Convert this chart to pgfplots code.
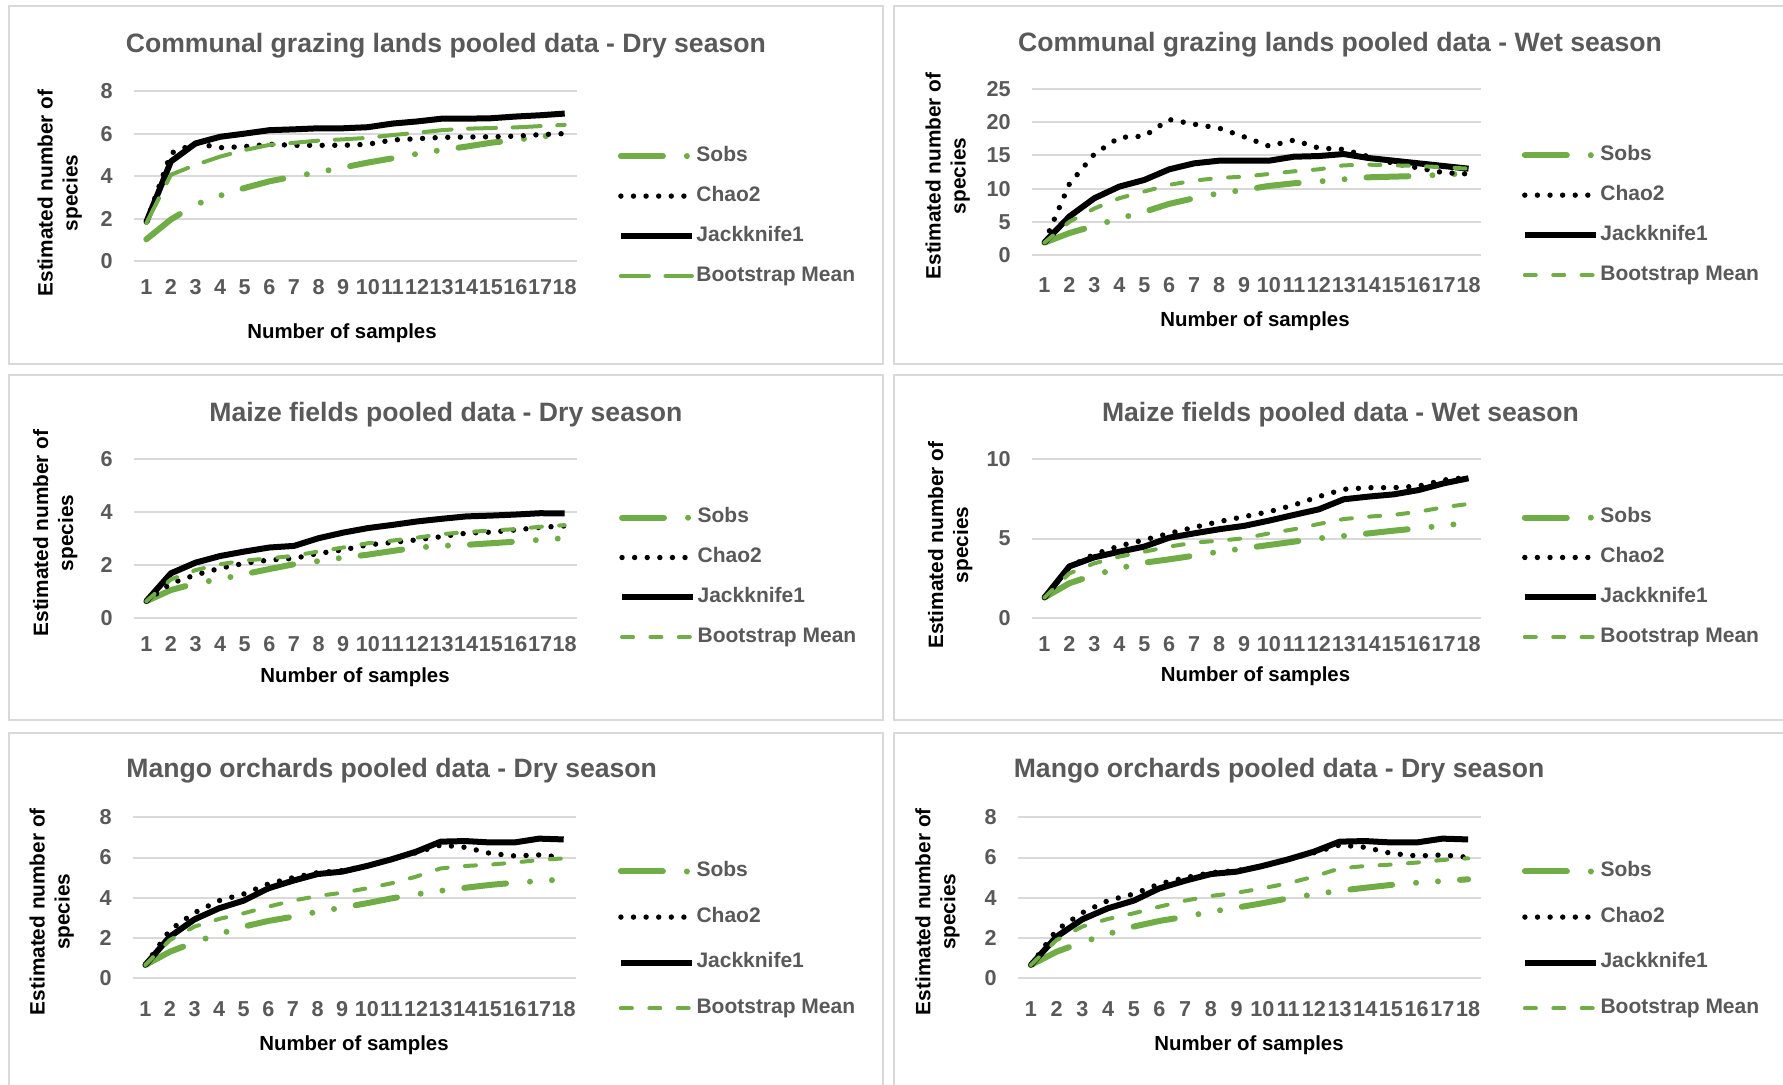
\documentclass[border=0pt]{standalone}
\usepackage{pgfplots}
\pgfplotsset{compat=1.18}
\usepackage{fontspec}
\setmainfont{Liberation Sans}
\definecolor{grn}{HTML}{70AD47}
\definecolor{txtgray}{HTML}{595959}
\definecolor{gridgray}{HTML}{D9D9D9}
\pgfplotsset{
  every axis title shift=0pt,
  panel/.style={
    scale only axis, anchor=south west, clip=false,
    xmin=0.5, xmax=18.5, xtick={1,...,18}, ymin=0,
    axis line style={draw=none}, major tick length=0pt,
    ymajorgrids, major grid style={gridgray, line width=1pt},
    /pgf/number format/assume math mode=true,
    tick label style={font=\fontsize{10.8}{12}\selectfont\bfseries, text=txtgray, inner sep=0pt},
    yticklabel style={anchor=east, xshift=-10.5pt},
    title style={font=\fontsize{13.3}{16}\selectfont\bfseries, text=txtgray, anchor=center, yshift=-1.6pt},
    xlabel style={font=\fontsize{10.2}{12}\selectfont\bfseries, anchor=center},
    ylabel style={font=\fontsize{10.4}{12.5}\selectfont\bfseries, anchor=center, align=center},
    legend style={draw=none, fill=none, anchor=north west, inner sep=0pt,
      font=\fontsize{10.5}{12}\selectfont\bfseries, text=txtgray,
      nodes={inner sep=0pt, text height=7.5pt, text depth=2.5pt}, column sep=0.8pt, row sep=10pt},
    legend cell align=left,
    legend image code/.code={\draw[##1] (0pt,0pt) -- (35.5pt,0pt);},
    xlabel={Number of samples}, ylabel={Estimated number of\\species},
  },
  sobs/.style={grn, line width=3pt, line cap=round, dash pattern=on 21pt off 12pt on 0pt off 11pt on 0pt off 11pt},
  chao/.style={black, line width=2.7pt, line cap=round, dash pattern=on 0pt off 6.3pt},
  jack/.style={black, line width=3pt, line join=round},
  bootlong/.style={grn, line width=2pt, line cap=round, dash pattern=on 14pt off 8.3pt},
  boot/.style={grn, line width=2pt, line cap=round, dash pattern=on 5.5pt off 8.7pt},
}
\begin{document}
\begin{tikzpicture}
\useasboundingbox (0,0) rectangle (891.5pt,542.5pt);
\clip (0,0) rectangle (891.5pt,542.5pt);
\draw[gridgray, line width=1pt] (4.25pt,360.25pt) rectangle (441.25pt,539.25pt);
\draw[gridgray, line width=1pt] (447pt,360.5pt) rectangle (900pt,539.5pt);
\draw[gridgray, line width=1pt] (4.25pt,182.25pt) rectangle (441.25pt,355pt);
\draw[gridgray, line width=1pt] (447pt,182.25pt) rectangle (900pt,355pt);
\draw[gridgray, line width=1pt] (4.25pt,-7.5pt) rectangle (441.25pt,176pt);
\draw[gridgray, line width=1pt] (447pt,-7.5pt) rectangle (900pt,176pt);

% Panel 1
\begin{axis}[panel, at={(67pt,411.75pt)}, width=221.5pt, height=85.25pt,
  ymax=8, ytick={0,2,4,6,8},
  title={Communal grazing lands pooled data - Dry season},
  title style={at={(axis description cs:0.704,1.2815)}},
  xlabel style={at={(axis description cs:0.4695,-0.4194)}},
  ylabel style={at={(axis description cs:-0.1677,0.4018)}},
  xticklabel style={anchor=center,yshift=-12.75pt},
  legend style={at={(1.0914,0.679)}, row sep=10pt}]
\addplot[sobs] coordinates {(1,1.04)(2,1.97)(3,2.67)(4,3.09)(5,3.45)(6,3.76)(7,3.99)(8,4.19)(9,4.41)(10,4.64)(11,4.84)(12,5.05)(13,5.23)(14,5.39)(15,5.57)(16,5.70)(17,5.85)(18,6.00)};
\addlegendentry{Sobs}
\addplot[chao] coordinates {(1,1.85)(2,5.08)(3,5.54)(4,5.34)(5,5.39)(6,5.50)(7,5.45)(8,5.45)(9,5.45)(10,5.50)(11,5.70)(12,5.76)(13,5.82)(14,5.84)(15,5.85)(16,5.88)(17,5.95)(18,6.00)};
\addlegendentry{Chao2}
\addplot[jack] coordinates {(1,1.85)(2,4.69)(3,5.54)(4,5.85)(5,6.00)(6,6.16)(7,6.20)(8,6.25)(9,6.25)(10,6.30)(11,6.47)(12,6.57)(13,6.70)(14,6.70)(15,6.72)(16,6.80)(17,6.86)(18,6.94)};
\addlegendentry{Jackknife1}
\addplot[bootlong] coordinates {(1,1.80)(2,4.07)(3,4.53)(4,4.92)(5,5.23)(6,5.47)(7,5.57)(8,5.67)(9,5.73)(10,5.80)(11,5.93)(12,6.04)(13,6.16)(14,6.23)(15,6.26)(16,6.29)(17,6.35)(18,6.41)};
\addlegendentry{Bootstrap Mean}
\end{axis}

% Panel 2
\begin{axis}[panel, at={(516pt,415pt)}, width=224.5pt, height=83pt,
  ymax=25, ytick={0,5,10,15,20,25},
  title={Communal grazing lands pooled data - Wet season},
  title style={at={(axis description cs:0.686,1.289)}},
  xlabel style={at={(axis description cs:0.4967,-0.3976)}},
  ylabel style={at={(axis description cs:-0.1877,0.476)}},
  xticklabel style={anchor=center,yshift=-15pt},
  legend style={at={(1.090,0.664)}, row sep=10pt}]
\addplot[sobs] coordinates {(1,1.86)(2,3.3)(3,4.4)(4,5.5)(5,6.5)(6,7.7)(7,8.55)(8,9.3)(9,9.8)(10,10.4)(11,10.8)(12,11.07)(13,11.4)(14,11.7)(15,11.8)(16,11.9)(17,12.1)(18,12.3)};
\addlegendentry{Sobs}
\addplot[chao] coordinates {(1,1.9)(2,10.7)(3,15.2)(4,17.7)(5,17.9)(6,20.4)(7,19.7)(8,19.1)(9,17.8)(10,16.4)(11,17.3)(12,16.1)(13,15.9)(14,14.8)(15,13.8)(16,13.1)(17,12.4)(18,12.2)};
\addlegendentry{Chao2}
\addplot[jack] coordinates {(1,1.9)(2,5.8)(3,8.55)(4,10.3)(5,11.3)(6,12.9)(7,13.8)(8,14.2)(9,14.2)(10,14.2)(11,14.8)(12,14.9)(13,15.2)(14,14.6)(15,14.2)(16,13.8)(17,13.4)(18,13.0)};
\addlegendentry{Jackknife1}
\addplot[boot] coordinates {(1,1.86)(2,5.0)(3,7.0)(4,8.55)(5,9.56)(6,10.56)(7,11.2)(8,11.6)(9,11.8)(10,12.2)(11,12.6)(12,12.9)(13,13.5)(14,13.6)(15,13.5)(16,13.4)(17,13.2)(18,13.0)};
\addlegendentry{Bootstrap Mean}
\end{axis}

% Panel 3
\begin{axis}[panel, at={(67pt,233.25pt)}, width=221.5pt, height=79.75pt,
  ymax=6, ytick={0,2,4,6},
  title={Maize fields pooled data - Dry season},
  title style={at={(axis description cs:0.704,1.301)}},
  xlabel style={at={(axis description cs:0.4989,-0.367)}},
  ylabel style={at={(axis description cs:-0.1778,0.536)}},
  xticklabel style={anchor=center,yshift=-12.75pt},
  legend style={at={(1.094,0.697)}, row sep=9.9pt}]
\addplot[sobs] coordinates {(1,0.65)(2,1.07)(3,1.32)(4,1.48)(5,1.67)(6,1.86)(7,2.04)(8,2.16)(9,2.29)(10,2.40)(11,2.54)(12,2.67)(13,2.73)(14,2.77)(15,2.83)(16,2.89)(17,2.96)(18,3.02)};
\addlegendentry{Sobs}
\addplot[chao] coordinates {(1,0.65)(2,1.32)(3,1.64)(4,1.89)(5,2.08)(6,2.20)(7,2.26)(8,2.45)(9,2.58)(10,2.77)(11,2.86)(12,2.96)(13,3.08)(14,3.21)(15,3.25)(16,3.33)(17,3.43)(18,3.48)};
\addlegendentry{Chao2}
\addplot[jack] coordinates {(1,0.65)(2,1.70)(3,2.10)(4,2.35)(5,2.52)(6,2.67)(7,2.73)(8,3.02)(9,3.23)(10,3.40)(11,3.52)(12,3.65)(13,3.75)(14,3.84)(15,3.87)(16,3.91)(17,3.96)(18,3.95)};
\addlegendentry{Jackknife1}
\addplot[boot] coordinates {(1,0.65)(2,1.47)(3,1.82)(4,2.04)(5,2.18)(6,2.26)(7,2.36)(8,2.52)(9,2.67)(10,2.83)(11,2.93)(12,3.04)(13,3.17)(14,3.25)(15,3.31)(16,3.36)(17,3.45)(18,3.51)};
\addlegendentry{Bootstrap Mean}
\end{axis}

% Panel 4
\begin{axis}[panel, at={(516pt,233.35pt)}, width=224.5pt, height=79.65pt,
  ymax=10, ytick={0,5,10},
  title={Maize fields pooled data - Wet season},
  title style={at={(axis description cs:0.687,1.301)}},
  xlabel style={at={(axis description cs:0.4977,-0.3666)}},
  ylabel style={at={(axis description cs:-0.182,0.46)}},
  xticklabel style={anchor=center,yshift=-12.85pt},
  legend style={at={(1.090,0.697)}, row sep=9.9pt}]
\addplot[sobs] coordinates {(1,1.3)(2,2.2)(3,2.72)(4,3.14)(5,3.49)(6,3.70)(7,3.93)(8,4.18)(9,4.39)(10,4.60)(11,4.81)(12,5.02)(13,5.17)(14,5.33)(15,5.50)(16,5.65)(17,5.82)(18,6.0)};
\addlegendentry{Sobs}
\addplot[chao] coordinates {(1,1.3)(2,3.24)(3,4.02)(4,4.54)(5,4.92)(6,5.33)(7,5.71)(8,6.07)(9,6.38)(10,6.69)(11,7.11)(12,7.64)(13,8.10)(14,8.20)(15,8.20)(16,8.30)(17,8.68)(18,8.85)};
\addlegendentry{Chao2}
\addplot[jack] coordinates {(1,1.3)(2,3.26)(3,3.83)(4,4.18)(5,4.50)(6,5.06)(7,5.33)(8,5.59)(9,5.80)(10,6.13)(11,6.49)(12,6.84)(13,7.47)(14,7.64)(15,7.78)(16,8.05)(17,8.47)(18,8.79)};
\addlegendentry{Jackknife1}
\addplot[boot] coordinates {(1,1.3)(2,2.82)(3,3.45)(4,3.87)(5,4.18)(6,4.50)(7,4.75)(8,4.87)(9,5.02)(10,5.33)(11,5.59)(12,5.92)(13,6.23)(14,6.38)(15,6.49)(16,6.69)(17,6.97)(18,7.18)};
\addlegendentry{Bootstrap Mean}
\end{axis}

% Panel 5
\begin{axis}[panel, at={(66.5pt,53.35pt)}, width=221.5pt, height=80.5pt,
  ymax=8, ytick={0,2,4,6,8},
  title={Mango orchards pooled data - Dry season},
  title style={at={(axis description cs:0.584,1.312)}},
  xlabel style={at={(axis description cs:0.4989,-0.414)}},
  ylabel style={at={(axis description cs:-0.1835,0.4137)}},
  xticklabel style={anchor=center,yshift=-15.5pt},
  legend style={at={(1.0937,0.728)}, row sep=12.8pt}]
\addplot[sobs] coordinates {(1,0.66)(2,1.32)(3,1.79)(4,2.20)(5,2.57)(6,2.85)(7,3.06)(8,3.31)(9,3.51)(10,3.73)(11,3.97)(12,4.17)(13,4.35)(14,4.50)(15,4.64)(16,4.75)(17,4.83)(18,4.92)};
\addlegendentry{Sobs}
\addplot[chao] coordinates {(1,0.66)(2,2.40)(3,3.26)(4,3.86)(5,4.19)(6,4.69)(7,5.00)(8,5.25)(9,5.35)(10,5.58)(11,5.91)(12,6.24)(13,6.62)(14,6.51)(15,6.21)(16,6.08)(17,6.13)(18,6.01)};
\addlegendentry{Chao2}
\addplot[jack] coordinates {(1,0.66)(2,2.07)(3,2.93)(4,3.48)(5,3.86)(6,4.47)(7,4.85)(8,5.18)(9,5.30)(10,5.58)(11,5.91)(12,6.29)(13,6.79)(14,6.82)(15,6.75)(16,6.75)(17,6.94)(18,6.90)};
\addlegendentry{Jackknife1}
\addplot[boot] coordinates {(1,0.66)(2,1.90)(3,2.57)(4,2.95)(5,3.23)(6,3.56)(7,3.86)(8,4.09)(9,4.25)(10,4.47)(11,4.72)(12,5.05)(13,5.46)(14,5.58)(15,5.65)(16,5.75)(17,5.88)(18,5.96)};
\addlegendentry{Bootstrap Mean}
\end{axis}

% Panel 6
\begin{axis}[panel, at={(509pt,53.35pt)}, width=231.5pt, height=80.5pt,
  ymax=8, ytick={0,2,4,6,8},
  title={Mango orchards pooled data - Dry season},
  title style={at={(axis description cs:0.564,1.312)}},
  xlabel style={at={(axis description cs:0.499,-0.414)}},
  ylabel style={at={(axis description cs:-0.174,0.4137)}},
  xticklabel style={anchor=center,yshift=-15.5pt},
  legend style={at={(1.0875,0.728)}, row sep=12.8pt}]
\addplot[sobs] coordinates {(1,0.66)(2,1.32)(3,1.79)(4,2.20)(5,2.57)(6,2.85)(7,3.06)(8,3.31)(9,3.51)(10,3.73)(11,3.97)(12,4.17)(13,4.35)(14,4.50)(15,4.64)(16,4.75)(17,4.83)(18,4.92)};
\addlegendentry{Sobs}
\addplot[chao] coordinates {(1,0.66)(2,2.40)(3,3.26)(4,3.86)(5,4.19)(6,4.69)(7,5.00)(8,5.25)(9,5.35)(10,5.58)(11,5.91)(12,6.24)(13,6.62)(14,6.51)(15,6.21)(16,6.08)(17,6.13)(18,6.01)};
\addlegendentry{Chao2}
\addplot[jack] coordinates {(1,0.66)(2,2.07)(3,2.93)(4,3.48)(5,3.86)(6,4.47)(7,4.85)(8,5.18)(9,5.30)(10,5.58)(11,5.91)(12,6.29)(13,6.79)(14,6.82)(15,6.75)(16,6.75)(17,6.94)(18,6.90)};
\addlegendentry{Jackknife1}
\addplot[boot] coordinates {(1,0.66)(2,1.90)(3,2.57)(4,2.95)(5,3.23)(6,3.56)(7,3.86)(8,4.09)(9,4.25)(10,4.47)(11,4.72)(12,5.05)(13,5.46)(14,5.58)(15,5.65)(16,5.75)(17,5.88)(18,5.96)};
\addlegendentry{Bootstrap Mean}
\end{axis}
\end{tikzpicture}
\end{document}
